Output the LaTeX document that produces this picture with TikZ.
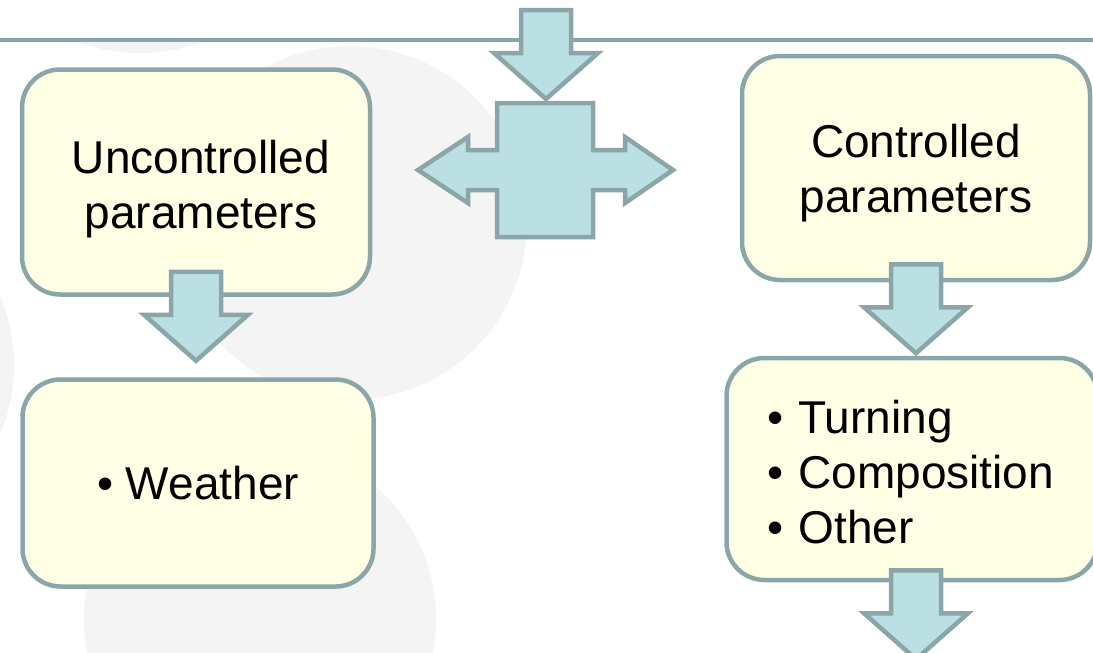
\documentclass[tikz,border=0pt]{standalone}
\usepackage{fontspec}
\setmainfont{Liberation Sans}
\definecolor{edgegray}{RGB}{138,166,168}
\definecolor{boxfill}{RGB}{255,255,230}
\definecolor{arrowfill}{RGB}{187,224,227}
\definecolor{discgray}{RGB}{244,244,244}
\tikzset{
  box/.style={draw=edgegray, line width=4.5pt, fill=boxfill, rounded corners=38pt, inner sep=0pt},
  boxtext/.style={font=\fontsize{46}{55}\selectfont, align=center, inner sep=0pt},
  blockarrow/.style={draw=edgegray, line width=4.5pt, fill=arrowfill},
  pics/downarrow/.style={code={
    \draw[blockarrow] (-25,0) -- (25,0) -- (25,43) -- (52,43) -- (0,89) -- (-52,43) -- (-25,43) -- cycle;}}
}
\begin{document}
\begin{tikzpicture}[x=1pt,y=-1pt]
\useasboundingbox (0,0) rectangle (1093,653);
\clip (0,0) rectangle (1093,653);
% background discs
\begin{scope}
\clip (0,42) rectangle (1093,653);
\fill[discgray] (350,223) circle (177);
\fill[discgray] (260,619) circle (176);
\fill[discgray] (140,-124) circle (177);
\fill[discgray] (-163,365) circle (177);
\end{scope}
\draw[edgegray, line width=4pt] (0,40) -- (1093,40);
% boxes
\node[box, minimum width=348pt, minimum height=225pt] (unctrl) at (196,182) {};
\node[boxtext] (unctrltext) at ([xshift=5pt,yshift=-7pt]unctrl.center) {Uncontrolled\\parameters};
\node[box, minimum width=351pt, minimum height=207pt] (weather) at (198,483) {};
\node[boxtext] (weathertext) at (weather.center) {• Weather};
\node[box, minimum width=348pt, minimum height=224pt] (ctrl) at (916,168) {};
\node[boxtext] (ctrltext) at ([yshift=-5pt]ctrl.center) {Controlled\\parameters};
\node[box, minimum width=371pt, minimum height=222pt] (list) at (912,469) {};
\node[boxtext, text width=290pt, align=left] (listtext) at ([yshift=-3pt]list.center) {• Turning\\• Composition\\• Other};
% arrows
\pic at (546,10) {downarrow};
\draw[blockarrow] (497,103) -- (593,103) -- (593,150) -- (625,150) -- (625,137) -- (673,170)
  -- (625,203) -- (625,190) -- (593,190) -- (593,237) -- (497,237) -- (497,190) -- (468,190)
  -- (468,203) -- (418,170) -- (468,137) -- (468,150) -- (497,150) -- cycle;
\pic at ([yshift=25pt]unctrl.south) {downarrow};
\pic at ([yshift=18pt]ctrl.south) {downarrow};
\pic at ([xshift=4pt,yshift=12pt]list.south) {downarrow};
\end{tikzpicture}
\end{document}
